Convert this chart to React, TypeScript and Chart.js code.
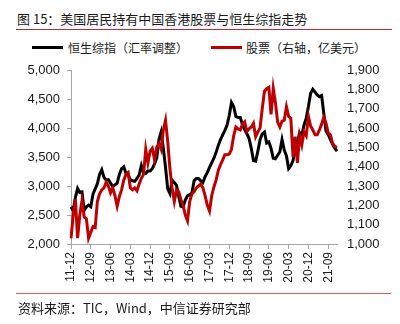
import React, { useEffect, useRef } from 'react';
import { Chart, registerables } from 'chart.js';

Chart.register(...registerables);

const months = [
  '11-12',
  '12-01', '12-02', '12-03', '12-04', '12-05', '12-06', '12-07', '12-08', '12-09', '12-10', '12-11', '12-12',
  '13-01', '13-02', '13-03', '13-04', '13-05', '13-06', '13-07', '13-08', '13-09', '13-10', '13-11', '13-12',
  '14-01', '14-02', '14-03', '14-04', '14-05', '14-06', '14-07', '14-08', '14-09', '14-10', '14-11', '14-12',
  '15-01', '15-02', '15-03', '15-04', '15-05', '15-06', '15-07', '15-08', '15-09', '15-10', '15-11', '15-12',
  '16-01', '16-02', '16-03', '16-04', '16-05', '16-06', '16-07', '16-08', '16-09', '16-10', '16-11', '16-12',
  '17-01', '17-02', '17-03', '17-04', '17-05', '17-06', '17-07', '17-08', '17-09', '17-10', '17-11', '17-12',
  '18-01', '18-02', '18-03', '18-04', '18-05', '18-06', '18-07', '18-08', '18-09', '18-10', '18-11', '18-12',
  '19-01', '19-02', '19-03', '19-04', '19-05', '19-06', '19-07', '19-08', '19-09', '19-10', '19-11', '19-12',
  '20-01', '20-02', '20-03', '20-04', '20-05', '20-06', '20-07', '20-08', '20-09', '20-10', '20-11', '20-12',
  '21-01', '21-02', '21-03', '21-04', '21-05', '21-06', '21-07', '21-08', '21-09', '21-10', '21-11', '21-12',
  '22-01',
];

const tickLabels = ['11-12', '12-09', '13-06', '14-03', '14-12', '15-09', '16-06', '17-03', '17-12', '18-09', '19-06', '20-03', '20-12', '21-09'];

// 恒生综指（汇率调整） – left axis
const hsciValues = [
  2640, 2580, 2800, 2960, 2890, 2900, 2580, 2640, 2670, 2640,
  2860, 2950, 3040, 3200, 3280, 3150, 3100, 3110, 3050, 2990,
  3020, 3050, 3200, 3300, 3330, 3220, 3190, 3110, 3090, 3080,
  3130, 3190, 3350, 3230, 3220, 3260, 3260, 3300, 3380, 3480,
  3800, 3930, 3650, 3320, 2950, 2870, 3100, 3060, 3010, 2820,
  2650, 2640, 2760, 2830, 2850, 2880, 3090, 3130, 3130, 3090,
  3060, 3160, 3230, 3320, 3400, 3480, 3580, 3700, 3800, 3880,
  3960, 4050, 4220, 4440, 4370, 4200, 4180, 4180, 4060, 3970,
  3900, 3820, 3650, 3440, 3430, 3600, 3800, 3900, 3930, 3740,
  3760, 3650, 3480, 3470, 3530, 3590, 3800, 3620, 3520, 3300,
  3350, 3440, 3620, 3760, 3920, 3880, 4050, 4170, 4370, 4600,
  4670, 4620, 4570, 4540, 4560, 4250, 3950, 3890, 3800, 3720,
  3650, 3600,
];

// 股票（右轴，亿美元） – right axis
const stockValues = [
  1029, 1150, 1230, 1030, 1150, 1225, 1140, 1130, 1030, 1060,
  1090, 1085, 1220, 1260, 1280, 1290, 1320, 1300, 1265, 1290,
  1250, 1195, 1245, 1280, 1330, 1360, 1370, 1290, 1280, 1290,
  1275, 1310, 1340, 1360, 1490, 1420, 1480, 1495, 1435, 1500,
  1520, 1490, 1590, 1640, 1530, 1390, 1290, 1220, 1280, 1270,
  1230, 1200, 1150, 1120, 1220, 1260, 1270, 1290, 1300, 1310,
  1290, 1250, 1200, 1170, 1250, 1295, 1330, 1380, 1410, 1435,
  1462, 1462, 1465, 1490, 1560, 1605, 1595, 1590, 1620, 1632,
  1582, 1596, 1605, 1624, 1555, 1580, 1600, 1700, 1790, 1803,
  1810, 1670, 1805, 1730, 1630, 1605, 1635, 1640, 1710, 1660,
  1650, 1450, 1555, 1420, 1560, 1512, 1580, 1560, 1660, 1610,
  1590, 1565, 1565, 1590, 1620, 1655, 1625, 1575, 1565, 1520,
  1505, 1498,
];

const seriesNames = ['恒生综指（汇率调整）', '股票（右轴，亿美元）'];
const leftMin = 2000;
const leftMax = 5000;
const leftStep = 500;
const rightMin = 1000;
const rightMax = 1900;
const rightStep = 100;

const titleText = '图 15：美国居民持有中国香港股票与恒生综指走势';
const sourceText = '资料来源：TIC，Wind，中信证券研究部';

const BLACK = '#000000';
const RED = '#c00000';
const AXIS = '#a6a6a6';
const RULE_TOP = '#c0282d';
const RULE_BOTTOM = '#e05a5a';
const TEXT = '#1a1a1a';
const NUM_FONT = '"Liberation Sans", Arial, sans-serif';
const CJK_FONT = '"Noto Sans CJK SC", "Noto Sans", sans-serif';

export default function App() {
  const ref = useRef<HTMLCanvasElement | null>(null);

  useEffect(() => {
    if (!ref.current) return;
    const isTick = (i: number) => tickLabels.includes(months[i]);
    const chart = new Chart(ref.current, {
      type: 'line',
      data: {
        labels: months,
        datasets: [
          {
            label: seriesNames[0],
            data: hsciValues,
            borderColor: BLACK,
            backgroundColor: BLACK,
            borderWidth: 3,
            pointRadius: 0,
            tension: 0,
            yAxisID: 'y',
            order: 2,
          },
          {
            label: seriesNames[1],
            data: stockValues,
            borderColor: RED,
            backgroundColor: RED,
            borderWidth: 3,
            pointRadius: 0,
            tension: 0,
            yAxisID: 'y1',
            order: 1,
          },
        ],
      },
      options: {
        responsive: false,
        animation: false,
        layout: { padding: { top: 70, left: 0, right: 0, bottom: 0 } },
        plugins: { legend: { display: false }, tooltip: { enabled: false } },
        scales: {
          x: {
            type: 'category',
            offset: false,
            grid: {
              display: true,
              drawOnChartArea: false,
              drawTicks: true,
              tickLength: 5,
              color: (ctx: any) => (isTick(ctx.index) ? AXIS : 'rgba(0,0,0,0)'),
            },
            border: { display: true, color: AXIS, width: 1 },
            ticks: {
              autoSkip: false,
              maxRotation: 90,
              minRotation: 90,
              padding: 3,
              color: TEXT,
              font: { family: NUM_FONT, size: 12 },
              callback: (_v: any, i: number) => (isTick(i) ? months[i] : ''),
            },
            afterFit: (s: any) => {
              s.height = 80;
            },
          },
          y: {
            position: 'left',
            min: leftMin,
            max: leftMax,
            grid: { display: true, drawOnChartArea: false, drawTicks: true, tickLength: 4, color: AXIS },
            border: { display: true, color: AXIS, width: 1 },
            ticks: {
              stepSize: leftStep,
              padding: 7,
              color: TEXT,
              font: { family: NUM_FONT, size: 13 },
              callback: (v: any) => Number(v).toLocaleString('en-US'),
            },
            afterFit: (s: any) => {
              s.width = 71;
            },
          },
          y1: {
            position: 'right',
            min: rightMin,
            max: rightMax,
            grid: { display: false, drawOnChartArea: false, drawTicks: false },
            border: { display: false },
            ticks: {
              stepSize: rightStep,
              padding: 10,
              color: TEXT,
              font: { family: NUM_FONT, size: 13 },
              callback: (v: any) => Number(v).toLocaleString('en-US'),
            },
            afterFit: (s: any) => {
              s.width = 63;
            },
          },
        },
      },
    } as any);
    return () => chart.destroy();
  }, []);

  const abs = (o: React.CSSProperties): React.CSSProperties => ({ position: 'absolute', ...o });

  return (
    <div style={abs({ left: 0, top: 0, width: 400, height: 324, background: '#fff', overflow: 'hidden' })}>
      <div style={abs({ left: 17, top: 12, fontFamily: CJK_FONT, fontSize: 13, lineHeight: '13px', color: TEXT, whiteSpace: 'nowrap' })}>
        {titleText}
      </div>
      <div style={abs({ left: 16, top: 29, width: 376, height: 1, background: RULE_TOP })} />
      <div style={abs({ left: 32, top: 46, width: 31, height: 3, background: BLACK })} />
      <div style={abs({ left: 68, top: 42, fontFamily: CJK_FONT, fontSize: 12, lineHeight: '12px', color: TEXT, whiteSpace: 'nowrap' })}>
        {seriesNames[0]}
      </div>
      <div style={abs({ left: 211, top: 46, width: 31, height: 3, background: RED })} />
      <div style={abs({ left: 246, top: 42, fontFamily: CJK_FONT, fontSize: 12, lineHeight: '12px', color: TEXT, whiteSpace: 'nowrap' })}>
        {seriesNames[1]}
      </div>
      <canvas ref={ref} width={400} height={324} style={abs({ left: 0, top: 0, width: 400, height: 324 })} />
      <div style={abs({ left: 16, top: 293, width: 375, height: 1, background: RULE_BOTTOM })} />
      <div style={abs({ left: 18, top: 301, fontFamily: CJK_FONT, fontSize: 13, lineHeight: '13px', color: TEXT, whiteSpace: 'nowrap' })}>
        {sourceText}
      </div>
    </div>
  );
}
